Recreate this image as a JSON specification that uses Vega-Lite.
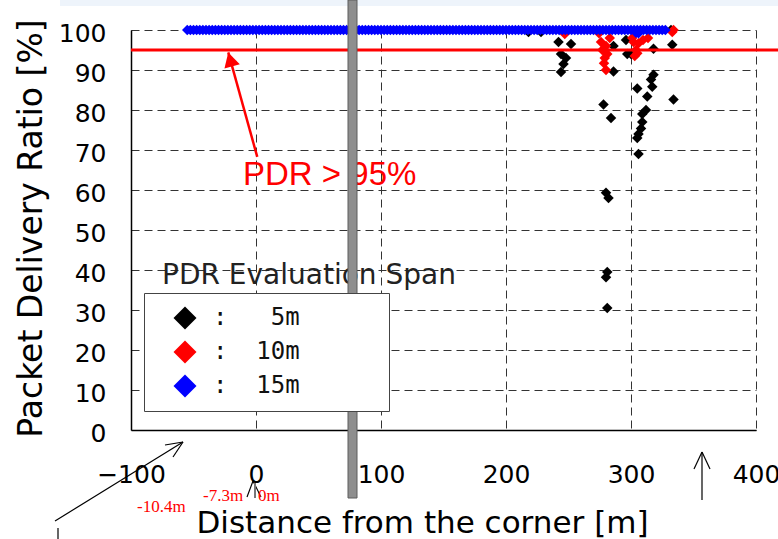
{
  "$schema": "https://vega.github.io/schema/vega-lite/v6.json",
  "width": 625,
  "height": 400,
  "autosize": {"type": "none"},
  "padding": {"left": 131, "top": 30, "right": 22, "bottom": 109},
  "background": "white",
  "config": {"view": {"stroke": null}, "font": "DejaVu Sans"},
  "datasets": {
    "strip": [{"x": -156.8, "x2": 417.6, "y": 107.5, "y2": 106}],
    "band": [{"x": 73.6, "x2": 80.8, "y": 107.5, "y2": 32}, {"x": 73.6, "x2": 80.8, "y": 7.5, "y2": -17}],
    "pdr": [
      {"x": 218, "y": 99.5, "s": "5m"}, {"x": 228, "y": 99.5, "s": "5m"}, {"x": 242, "y": 97, "s": "5m"}, {"x": 252, "y": 96.5, "s": "5m"},
      {"x": 244, "y": 94, "s": "5m"}, {"x": 248, "y": 93, "s": "5m"}, {"x": 246, "y": 91.5, "s": "5m"}, {"x": 244, "y": 89.5, "s": "5m"},
      {"x": 286, "y": 96, "s": "5m"}, {"x": 286, "y": 89.6, "s": "5m"}, {"x": 296, "y": 97.5, "s": "5m"}, {"x": 297, "y": 94, "s": "5m"},
      {"x": 300, "y": 94, "s": "5m"}, {"x": 318, "y": 95.3, "s": "5m"}, {"x": 333, "y": 96.3, "s": "5m"}, {"x": 332, "y": 100, "s": "5m"},
      {"x": 318, "y": 88.8, "s": "5m"}, {"x": 316, "y": 87.6, "s": "5m"}, {"x": 317, "y": 85.8, "s": "5m"}, {"x": 305, "y": 85.4, "s": "5m"},
      {"x": 313, "y": 83.4, "s": "5m"}, {"x": 334, "y": 82.6, "s": "5m"}, {"x": 278, "y": 81.4, "s": "5m"}, {"x": 284, "y": 78, "s": "5m"},
      {"x": 312, "y": 80, "s": "5m"}, {"x": 309, "y": 79, "s": "5m"}, {"x": 309, "y": 77, "s": "5m"}, {"x": 308, "y": 75.4, "s": "5m"},
      {"x": 306, "y": 74, "s": "5m"}, {"x": 305, "y": 73, "s": "5m"}, {"x": 306, "y": 69, "s": "5m"}, {"x": 280, "y": 59.3, "s": "5m"},
      {"x": 282, "y": 58, "s": "5m"}, {"x": 281, "y": 39.5, "s": "5m"}, {"x": 280, "y": 38.2, "s": "5m"}, {"x": 281, "y": 30.5, "s": "5m"},
      {"x": 247, "y": 99, "s": "10m"}, {"x": 274.4, "y": 99.2, "s": "10m"}, {"x": 276, "y": 97, "s": "10m"}, {"x": 277, "y": 95, "s": "10m"},
      {"x": 280, "y": 96, "s": "10m"}, {"x": 281, "y": 94, "s": "10m"}, {"x": 279, "y": 93, "s": "10m"}, {"x": 278.4, "y": 91.7, "s": "10m"},
      {"x": 280, "y": 90, "s": "10m"}, {"x": 283, "y": 98, "s": "10m"}, {"x": 301, "y": 98, "s": "10m"}, {"x": 302, "y": 97, "s": "10m"},
      {"x": 304, "y": 95, "s": "10m"}, {"x": 305, "y": 94.2, "s": "10m"}, {"x": 306, "y": 96.7, "s": "10m"}, {"x": 303, "y": 93.5, "s": "10m"},
      {"x": 309.6, "y": 97.5, "s": "10m"}, {"x": 313.6, "y": 98, "s": "10m"}, {"x": 333, "y": 99.5, "s": "10m"}, {"x": 334, "y": 100, "s": "10m"},
      {"x": -55, "y": 100, "s": "15m"}, {"x": -52.5, "y": 100, "s": "15m"}, {"x": -50, "y": 100, "s": "15m"}, {"x": -47.5, "y": 100, "s": "15m"},
      {"x": -45, "y": 100, "s": "15m"}, {"x": -42.5, "y": 100, "s": "15m"}, {"x": -40, "y": 100, "s": "15m"}, {"x": -37.5, "y": 100, "s": "15m"},
      {"x": -35, "y": 100, "s": "15m"}, {"x": -32.5, "y": 100, "s": "15m"}, {"x": -30, "y": 100, "s": "15m"}, {"x": -27.5, "y": 100, "s": "15m"},
      {"x": -25, "y": 100, "s": "15m"}, {"x": -22.5, "y": 100, "s": "15m"}, {"x": -20, "y": 100, "s": "15m"}, {"x": -17.5, "y": 100, "s": "15m"},
      {"x": -15, "y": 100, "s": "15m"}, {"x": -12.5, "y": 100, "s": "15m"}, {"x": -10, "y": 100, "s": "15m"}, {"x": -7.5, "y": 100, "s": "15m"},
      {"x": -5, "y": 100, "s": "15m"}, {"x": -2.5, "y": 100, "s": "15m"}, {"x": 0, "y": 100, "s": "15m"}, {"x": 2.5, "y": 100, "s": "15m"},
      {"x": 5, "y": 100, "s": "15m"}, {"x": 7.5, "y": 100, "s": "15m"}, {"x": 10, "y": 100, "s": "15m"}, {"x": 12.5, "y": 100, "s": "15m"},
      {"x": 15, "y": 100, "s": "15m"}, {"x": 17.5, "y": 100, "s": "15m"}, {"x": 20, "y": 100, "s": "15m"}, {"x": 22.5, "y": 100, "s": "15m"},
      {"x": 25, "y": 100, "s": "15m"}, {"x": 27.5, "y": 100, "s": "15m"}, {"x": 30, "y": 100, "s": "15m"}, {"x": 32.5, "y": 100, "s": "15m"},
      {"x": 35, "y": 100, "s": "15m"}, {"x": 37.5, "y": 100, "s": "15m"}, {"x": 40, "y": 100, "s": "15m"}, {"x": 42.5, "y": 100, "s": "15m"},
      {"x": 45, "y": 100, "s": "15m"}, {"x": 47.5, "y": 100, "s": "15m"}, {"x": 50, "y": 100, "s": "15m"}, {"x": 52.5, "y": 100, "s": "15m"},
      {"x": 55, "y": 100, "s": "15m"}, {"x": 57.5, "y": 100, "s": "15m"}, {"x": 60, "y": 100, "s": "15m"}, {"x": 62.5, "y": 100, "s": "15m"},
      {"x": 65, "y": 100, "s": "15m"}, {"x": 67.5, "y": 100, "s": "15m"}, {"x": 70, "y": 100, "s": "15m"}, {"x": 72.5, "y": 100, "s": "15m"},
      {"x": 75, "y": 100, "s": "15m"}, {"x": 77.5, "y": 100, "s": "15m"}, {"x": 80, "y": 100, "s": "15m"}, {"x": 82.5, "y": 100, "s": "15m"},
      {"x": 85, "y": 100, "s": "15m"}, {"x": 87.5, "y": 100, "s": "15m"}, {"x": 90, "y": 100, "s": "15m"}, {"x": 92.5, "y": 100, "s": "15m"},
      {"x": 95, "y": 100, "s": "15m"}, {"x": 97.5, "y": 100, "s": "15m"}, {"x": 100, "y": 100, "s": "15m"}, {"x": 102.5, "y": 100, "s": "15m"},
      {"x": 105, "y": 100, "s": "15m"}, {"x": 107.5, "y": 100, "s": "15m"}, {"x": 110, "y": 100, "s": "15m"}, {"x": 112.5, "y": 100, "s": "15m"},
      {"x": 115, "y": 100, "s": "15m"}, {"x": 117.5, "y": 100, "s": "15m"}, {"x": 120, "y": 100, "s": "15m"}, {"x": 122.5, "y": 100, "s": "15m"},
      {"x": 125, "y": 100, "s": "15m"}, {"x": 127.5, "y": 100, "s": "15m"}, {"x": 130, "y": 100, "s": "15m"}, {"x": 132.5, "y": 100, "s": "15m"},
      {"x": 135, "y": 100, "s": "15m"}, {"x": 137.5, "y": 100, "s": "15m"}, {"x": 140, "y": 100, "s": "15m"}, {"x": 142.5, "y": 100, "s": "15m"},
      {"x": 145, "y": 100, "s": "15m"}, {"x": 147.5, "y": 100, "s": "15m"}, {"x": 150, "y": 100, "s": "15m"}, {"x": 152.5, "y": 100, "s": "15m"},
      {"x": 155, "y": 100, "s": "15m"}, {"x": 157.5, "y": 100, "s": "15m"}, {"x": 160, "y": 100, "s": "15m"}, {"x": 162.5, "y": 100, "s": "15m"},
      {"x": 165, "y": 100, "s": "15m"}, {"x": 167.5, "y": 100, "s": "15m"}, {"x": 170, "y": 100, "s": "15m"}, {"x": 172.5, "y": 100, "s": "15m"},
      {"x": 175, "y": 100, "s": "15m"}, {"x": 177.5, "y": 100, "s": "15m"}, {"x": 180, "y": 100, "s": "15m"}, {"x": 182.5, "y": 100, "s": "15m"},
      {"x": 185, "y": 100, "s": "15m"}, {"x": 187.5, "y": 100, "s": "15m"}, {"x": 190, "y": 100, "s": "15m"}, {"x": 192.5, "y": 100, "s": "15m"},
      {"x": 195, "y": 100, "s": "15m"}, {"x": 197.5, "y": 100, "s": "15m"}, {"x": 200, "y": 100, "s": "15m"}, {"x": 202.5, "y": 100, "s": "15m"},
      {"x": 205, "y": 100, "s": "15m"}, {"x": 207.5, "y": 100, "s": "15m"}, {"x": 210, "y": 100, "s": "15m"}, {"x": 212.5, "y": 100, "s": "15m"},
      {"x": 215, "y": 100, "s": "15m"}, {"x": 217.5, "y": 100, "s": "15m"}, {"x": 220, "y": 100, "s": "15m"}, {"x": 222.5, "y": 100, "s": "15m"},
      {"x": 225, "y": 100, "s": "15m"}, {"x": 227.5, "y": 100, "s": "15m"}, {"x": 230, "y": 100, "s": "15m"}, {"x": 232.5, "y": 100, "s": "15m"},
      {"x": 235, "y": 100, "s": "15m"}, {"x": 237.5, "y": 100, "s": "15m"}, {"x": 240, "y": 100, "s": "15m"}, {"x": 242.5, "y": 100, "s": "15m"},
      {"x": 245, "y": 100, "s": "15m"}, {"x": 247.5, "y": 100, "s": "15m"}, {"x": 250, "y": 100, "s": "15m"}, {"x": 252.5, "y": 100, "s": "15m"},
      {"x": 255, "y": 100, "s": "15m"}, {"x": 257.5, "y": 100, "s": "15m"}, {"x": 260, "y": 100, "s": "15m"}, {"x": 262.5, "y": 100, "s": "15m"},
      {"x": 265, "y": 100, "s": "15m"}, {"x": 267.5, "y": 100, "s": "15m"}, {"x": 270, "y": 100, "s": "15m"}, {"x": 272.5, "y": 100, "s": "15m"},
      {"x": 275, "y": 100, "s": "15m"}, {"x": 277.5, "y": 100, "s": "15m"}, {"x": 280, "y": 100, "s": "15m"}, {"x": 282.5, "y": 100, "s": "15m"},
      {"x": 285, "y": 100, "s": "15m"}, {"x": 287.5, "y": 100, "s": "15m"}, {"x": 290, "y": 100, "s": "15m"}, {"x": 292.5, "y": 100, "s": "15m"},
      {"x": 295, "y": 100, "s": "15m"}, {"x": 297.5, "y": 100, "s": "15m"}, {"x": 300, "y": 100, "s": "15m"}, {"x": 302.5, "y": 100, "s": "15m"},
      {"x": 304, "y": 99.3, "s": "15m"}, {"x": 306, "y": 99.2, "s": "15m"},
      {"x": 305, "y": 100, "s": "15m"}, {"x": 307.5, "y": 100, "s": "15m"}, {"x": 310, "y": 100, "s": "15m"}, {"x": 312.5, "y": 100, "s": "15m"},
      {"x": 315, "y": 100, "s": "15m"}, {"x": 317.5, "y": 100, "s": "15m"}, {"x": 320, "y": 100, "s": "15m"}, {"x": 322.5, "y": 100, "s": "15m"},
      {"x": 325, "y": 100, "s": "15m"}, {"x": 327.5, "y": 100, "s": "15m"}
    ],
    "redline": [{"x": -100, "x2": 417.6, "y": 95}],
    "redarrow": [{"x": 1.0, "y": 68.3, "x2": -22.2, "y2": 94.4}],
    "redhead": [{"x": -22.2, "y": 94.4}],
    "redlabel": [{"x": -10.4, "y": 61.25, "t": "PDR > 95%"}],
    "legtitle": [{"x": -75.2, "y": 36.5, "t": "PDR Evaluation Span"}],
    "blacklines": [
      {"x": -160.8, "y": -22.75, "x2": -58.4, "y2": -3},
      {"x": -58.4, "y": -3, "x2": -72.8, "y2": -3.75},
      {"x": -58.4, "y": -3, "x2": -66.4, "y2": -6.75},
      {"x": -158.4, "y": -24.5, "x2": -158.4, "y2": -27.25},
      {"x": 356.8, "y": -17.5, "x2": 356.8, "y2": -5.5},
      {"x": 356.8, "y": -5.5, "x2": 350.4, "y2": -9.75},
      {"x": 356.8, "y": -5.5, "x2": 363.2, "y2": -9.75},
      {"x": -7.2, "y": -16.75, "x2": -2.4, "y2": -12.75},
      {"x": -2.4, "y": -12.75, "x2": 4, "y2": -16.75}
    ],
    "grayline": [{"x": -0.8, "y": -13.25, "x2": -0.8, "y2": -17}],
    "redtexts": [
      {"x": -95.2, "y": -20.5, "t": "-10.4m"},
      {"x": -42.4, "y": -17.75, "t": "-7.3m"},
      {"x": 1.6, "y": -17.75, "t": "0m"}
    ]
  },
  "encoding": {
    "x": {
      "field": "x", "type": "quantitative",
      "scale": {"domain": [-100, 400], "nice": false, "zero": false},
      "axis": {
        "values": [-100, 0, 100, 200, 300, 400],
        "grid": true, "gridDash": [8, 5], "gridColor": "#333", "gridWidth": 1,
        "domainColor": "#000", "domainWidth": 1.5, "ticks": false,
        "labelPadding": 32, "labelFont": "DejaVu Sans", "labelFontSize": 25, "labelColor": "#000",
        "labelFlush": false, "labelOverlap": false,
        "title": "Distance from the corner [m]", "titleFont": "DejaVu Sans", "titleFontSize": 31,
        "titleFontWeight": "normal", "titleColor": "#000",
        "titleX": 291, "titleY": 102, "titleAlign": "center", "titleBaseline": "alphabetic"
      }
    },
    "y": {
      "field": "y", "type": "quantitative",
      "scale": {"domain": [0, 100], "nice": false, "zero": false},
      "axis": {
        "values": [0, 10, 20, 30, 40, 50, 60, 70, 80, 90, 100],
        "grid": true, "gridDash": [8, 5], "gridColor": "#333", "gridWidth": 1,
        "domainColor": "#000", "domainWidth": 1.5, "ticks": false,
        "labelPadding": 25, "labelFont": "DejaVu Sans", "labelFontSize": 25, "labelColor": "#000",
        "labelFlush": false, "labelOverlap": false, "labelOffset": 3,
        "title": "Packet Delivery Ratio [%]", "titleFont": "DejaVu Sans", "titleFontSize": 33,
        "titleFontWeight": "normal", "titleColor": "#000", "titleAngle": -90,
        "titleX": -90, "titleY": 198, "titleAlign": "center", "titleBaseline": "alphabetic"
      }
    }
  },
  "layer": [
    {
      "data": {"name": "strip"},
      "mark": {"type": "rect", "color": "#eef4fb"},
      "encoding": {"x2": {"field": "x2"}, "y2": {"field": "y2"}}
    },
    {
      "data": {"name": "pdr"},
      "mark": {"type": "point", "shape": "diamond", "filled": true, "size": 110, "opacity": 1, "strokeWidth": 0},
      "encoding": {
        "color": {
          "field": "s", "type": "nominal",
          "scale": {"domain": ["5m", "10m", "15m"], "range": ["#000000", "#ff0000", "#0000ff"]},
          "legend": {
            "title": null, "orient": "none", "legendX": 13, "legendY": 263,
            "padding": 13, "fillColor": "white", "strokeColor": "#444",
            "symbolType": "diamond", "symbolSize": 529, "symbolStrokeWidth": 0, "symbolOpacity": 1,
            "symbolOffset": 16, "labelOffset": 16,
            "labelFont": "DejaVu Sans Mono", "labelFontSize": 24, "labelColor": "#111",
            "rowPadding": 10, "labelLimit": 400,
            "labelExpr": "':\u00a0\u00a0' + (length(datum.label) < 3 ? '\u00a0' : '') + datum.label + '\u00a0\u00a0\u00a0\u00a0\u2800'",
            "encode": {"symbols": {"update": {"fill": {"signal": "datum.value === '15m' ? '#3737cc' : datum.value === '10m' ? '#ff0000' : '#000000'"}}}}
          }
        }
      }
    },
    {
      "data": {"name": "redline"},
      "mark": {"type": "rule", "color": "#ff0000", "strokeWidth": 3},
      "encoding": {"x2": {"field": "x2"}}
    },
    {
      "data": {"name": "redarrow"},
      "mark": {"type": "rule", "color": "#ff0000", "strokeWidth": 2.5},
      "encoding": {"x2": {"field": "x2"}, "y2": {"field": "y2"}}
    },
    {
      "data": {"name": "redhead"},
      "mark": {"type": "point", "shape": "M0,0L0.55,1L-0.55,1Z", "filled": true, "size": 841, "color": "#ff0000", "opacity": 1, "angle": -15.5, "strokeWidth": 0}
    },
    {
      "data": {"name": "redlabel"},
      "mark": {"type": "text", "font": "Liberation Sans", "fontSize": 33, "color": "#ff0000", "align": "left", "baseline": "alphabetic"},
      "encoding": {"text": {"field": "t"}}
    },
    {
      "data": {"name": "legtitle"},
      "mark": {"type": "text", "font": "DejaVu Sans", "fontSize": 28, "color": "#222", "align": "left", "baseline": "alphabetic"},
      "encoding": {"text": {"field": "t"}}
    },
    {
      "data": {"name": "blacklines"},
      "mark": {"type": "rule", "color": "#000", "strokeWidth": 1.2},
      "encoding": {"x2": {"field": "x2"}, "y2": {"field": "y2"}}
    },
    {
      "data": {"name": "grayline"},
      "mark": {"type": "rule", "color": "#777", "strokeWidth": 2},
      "encoding": {"x2": {"field": "x2"}, "y2": {"field": "y2"}}
    },
    {
      "data": {"name": "redtexts"},
      "mark": {"type": "text", "font": "Liberation Serif", "fontSize": 17, "color": "#ff0000", "align": "left", "baseline": "alphabetic"},
      "encoding": {"text": {"field": "t"}}
    },
    {
      "data": {"name": "band"},
      "mark": {"type": "rect", "color": "#8e8e8e", "stroke": "#5c5c5c", "strokeWidth": 1},
      "encoding": {"x2": {"field": "x2"}, "y2": {"field": "y2"}}
    }
  ]
}
